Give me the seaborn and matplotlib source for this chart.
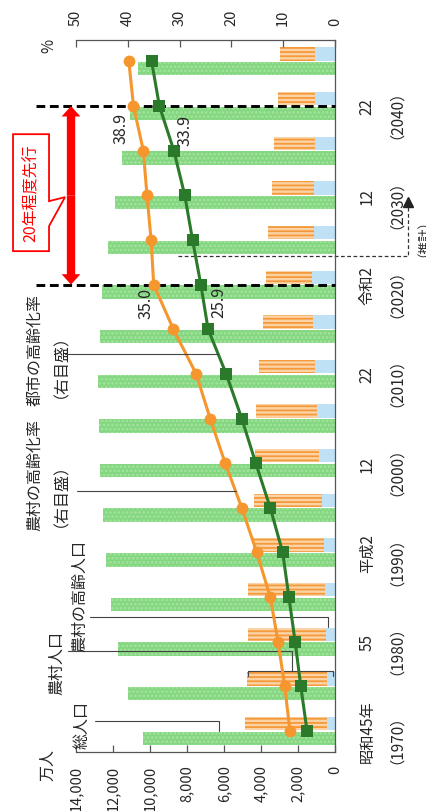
import numpy as np
import pandas as pd
import matplotlib
matplotlib.use('Agg')
import matplotlib.pyplot as plt
from matplotlib.patches import Polygon
import seaborn as sns

# Data
years = [1970, 1975, 1980, 1985, 1990, 1995, 2000, 2005, 2010, 2015,
         2020, 2025, 2030, 2035, 2040, 2045]
total_pop = [10372, 11194, 11706, 12105, 12361, 12557, 12693, 12777, 12806, 12709,
             12615, 12254, 11913, 11522, 11092, 10642]          # 総人口 (万人)
rural_pop = [4860, 4760, 4700, 4690, 4420, 4380, 4320, 4270, 4100, 3900,
             3730, 3620, 3420, 3300, 3080, 2970]                # 農村人口 (万人)
rural_elderly = [410, 420, 460, 520, 580, 730, 880, 960, 1060, 1200,
                 1270, 1160, 1120, 1100, 1100, 1090]            # 農村の高齢人口 (万人)
rural_rate = [8.7, 9.7, 11.0, 12.5, 15.1, 18.0, 21.2, 24.1, 26.8, 31.2,
              35.0, 35.5, 36.3, 37.0, 38.9, 39.8]               # 農村の高齢化率 (%)
urban_rate = [5.4, 6.6, 7.7, 8.9, 10.1, 12.5, 15.3, 18.0, 21.0, 24.5,
              25.9, 27.5, 29.0, 31.1, 33.9, 35.4]               # 都市の高齢化率 (%)

tick_years = [1970, 1980, 1990, 2000, 2010, 2020, 2030, 2040]
tick_labels = ['昭和45年\n（1970）', '55\n（1980）', '平成2\n（1990）', '12\n（2000）',
               '22\n（2010）', '令和2\n（2020）', '12\n（2030）', '22\n（2040）']
pop_ticks = [0, 2000, 4000, 6000, 8000, 10000, 12000, 14000]
rate_ticks = [0, 10, 20, 30, 40, 50]

sns.set_theme(style='white')
plt.rcParams['font.family'] = ['Noto Sans CJK JP', 'DejaVu Sans']
plt.rcParams['hatch.linewidth'] = 1.3

df = pd.DataFrame({'year': years, 'total': total_pop, 'rural': rural_pop,
                   'elderly': rural_elderly, 'rural_rate': rural_rate,
                   'urban_rate': urban_rate})
df['pos'] = np.arange(len(df))
off = 0.165
df['pos_total'] = df['pos'] - off
df['pos_rural'] = df['pos'] + off

# chart is drawn turned a quarter turn (years run bottom -> top)
fig = plt.figure(figsize=(4.26, 8.12), dpi=100)
ax = fig.add_axes([0.1784, 0.0727, 0.608, 0.8768])

sns.barplot(data=df, x='total', y='pos_total', orient='h', native_scale=True,
            width=0.3, color='#84d780', edgecolor='#a4e4a0', hatch='....',
            linewidth=0, saturation=1, errorbar=None, ax=ax)
sns.barplot(data=df, x='rural', y='pos_rural', orient='h', native_scale=True,
            width=0.3, color='#fcd3a6', edgecolor='#f59a3a', hatch='----',
            linewidth=0, saturation=1, errorbar=None, ax=ax)
sns.barplot(data=df, x='elderly', y='pos_rural', orient='h', native_scale=True,
            width=0.3, color='#bfe1f6', linewidth=0, saturation=1,
            errorbar=None, ax=ax)

ax2 = ax.twiny()
sns.lineplot(data=df, x='rural_rate', y='pos', orient='y', sort=False,
             color='#f5962e', lw=2.2, marker='o', markersize=8.5,
             markeredgewidth=0, ax=ax2)
sns.lineplot(data=df, x='urban_rate', y='pos', orient='y', sort=False,
             color='#2b7a2b', lw=2.2, marker='s', markersize=8,
             markeredgewidth=0, ax=ax2)

ax.set_xlim(14000, 0)
ax2.set_xlim(50, 0)
ax.set_ylim(-0.47, 15.48)

# axes styling
for s in ['left', 'top']:
    ax.spines[s].set_visible(False)
for s in ['left', 'right', 'bottom']:
    ax2.spines[s].set_visible(False)
for s in ['right', 'bottom']:
    ax.spines[s].set_color('#555555')
    ax.spines[s].set_linewidth(0.9)
ax2.spines['top'].set_color('#555555')
ax2.spines['top'].set_linewidth(0.9)

ax.set_xticks(pop_ticks)
ax.set_xticklabels([f'{v:,}' for v in pop_ticks])
ax.tick_params(axis='x', direction='in', length=5, width=0.9, color='#555555',
               labelrotation=90, pad=9, labelsize=10.5, bottom=True)
ax2.set_xticks(rate_ticks)
ax2.tick_params(axis='x', direction='in', length=5, width=0.9, color='#555555',
                labelrotation=90, pad=11, labelsize=10.5, top=True)

ax.set_yticks([years.index(y) for y in tick_years])
ax.set_yticklabels(tick_labels)
ax.yaxis.tick_right()
ax.tick_params(axis='y', length=0, pad=17, labelsize=11, labelrotation=90)
for lbl in ax.get_yticklabels():
    lbl.set_multialignment('center')
    lbl.set_va('center')
    lbl.set_linespacing(1.3)

ax.set_xlabel('')
ax.set_ylabel('')
ax2.set_xlabel('')

# axis units
ax.text(15510, -0.74, '万人', rotation=90, fontsize=11.5, ha='center', va='center')
ax2.text(55.2, 15.36, '%', rotation=90, fontsize=11, ha='center', va='center')

# reference lines at 2020 and 2040
dash = (0, (3, 1.6))
for y in [10, 14]:
    ax.plot([16150, 0], [y, y], ls=dash, color='black', lw=2.1, clip_on=False, zorder=3)

# red double arrow
for yy in [10, 14]:
    ax.annotate('', xy=(14270, yy), xytext=(14270, 12), annotation_clip=False,
                arrowprops=dict(arrowstyle='simple,head_length=0.75,head_width=1.35,tail_width=0.6',
                                mutation_scale=10, color='#ff0000', lw=0,
                                shrinkA=0, shrinkB=0))

# callout box
box = Polygon([(17404, 13.37), (15458, 13.37), (15458, 11.87), (14594, 11.96),
               (15458, 11.31), (15458, 10.75), (17404, 10.75)],
              closed=True, facecolor='white', edgecolor='#ff0000', lw=1.3,
              clip_on=False, zorder=4)
ax.add_patch(box)
ax.text(16431, 12.07, '20年程度先行', rotation=90, color='#ff0000', fontsize=11.5,
        ha='center', va='center', zorder=5)

# projection marker
ax.plot([8486, -3946, -3946], [10.64, 10.64, 11.78], ls=(0, (3, 2)),
        color='#333333', lw=0.9, clip_on=False)
ax.plot([-3946], [11.86], marker='^', markersize=7, color='#222222', clip_on=False)
ax.text(-4420, 11.2, '（推計）', rotation=90, fontsize=9, ha='center', va='center')

# leader lines and labels
lc = dict(color='#444444', lw=0.8, clip_on=False)
ax.plot([12970, 6270, 6270], [0.22, 0.22, 0.0], **lc)
ax.text(13675, 0.16, '総人口', rotation=90, fontsize=11.5, ha='center', va='center')

ax.plot([14430, 2324, 2324], [1.79, 1.79, 1.34], **lc)
ax.plot([4702, 4702, 108, 108], [1.23, 1.34, 1.34, 1.23], **lc)
ax.text(15025, 1.55, '農村人口', rotation=90, fontsize=11.5, ha='center', va='center')

ax.plot([13240, 378, 378], [2.55, 2.55, 2.33], **lc)
ax.text(13780, 3.05, '農村の高齢人口', rotation=90, fontsize=11.5, ha='center', va='center')

ax2.plot([49.8, 19.2], [5.375, 5.375], **lc)
ax.text(16215, 5.76, '農村の高齢化率', rotation=90, fontsize=11.5, ha='center', va='center')
ax.text(15240, 5.49, '（右目盛）', rotation=90, fontsize=11.5, ha='center', va='center')

ax2.plot([52.1, 22.5], [8.44, 8.44], **lc)
ax.text(16215, 8.56, '都市の高齢化率', rotation=90, fontsize=11.5, ha='center', va='center')
ax.text(15240, 8.38, '（右目盛）', rotation=90, fontsize=11.5, ha='center', va='center')

# value labels
ax2.text(41.3, 13.53, '38.9', rotation=90, fontsize=11.5, ha='center', va='center')
ax2.text(29.0, 13.48, '33.9', rotation=90, fontsize=11.5, ha='center', va='center')
ax2.text(36.5, 9.6, '35.0', rotation=90, fontsize=11.5, ha='center', va='center')
ax2.text(22.4, 9.63, '25.9', rotation=90, fontsize=11.5, ha='center', va='center')

fig.savefig('out.png', dpi=100)
